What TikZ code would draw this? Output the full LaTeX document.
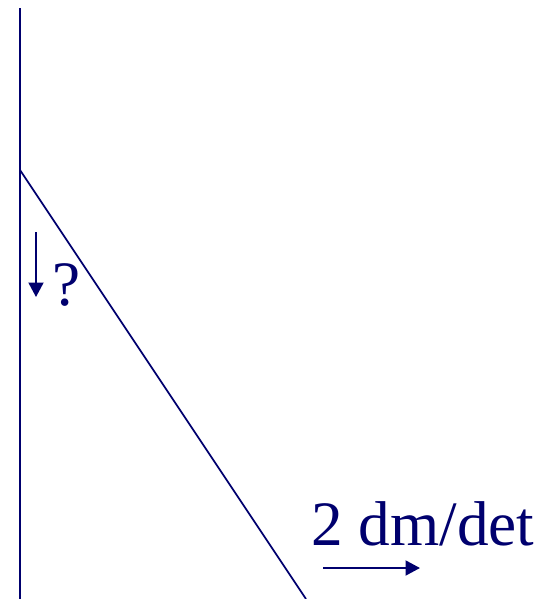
\documentclass[tikz,border=0pt]{standalone}
\usepackage{fontspec}
\setmainfont{Liberation Serif}
\usetikzlibrary{arrows.meta}
\definecolor{navy}{RGB}{0,0,110}
\tikzset{
  lbl/.style={font=\fontsize{36}{40}\selectfont, text=navy, inner sep=0pt},
  motion/.style={navy, line width=1.1pt, -{Triangle[length=0.29cm,width=0.3cm]}},
  body/.style={navy, line width=1.1pt}
}
\begin{document}
\begin{tikzpicture}[x=0.02cm,y=-0.02cm]
\useasboundingbox (0,0) rectangle (550,599);
% wall and ladder
\coordinate (walltop) at (20,8);
\coordinate (wallfoot) at (20,599);
\coordinate (ladtop) at (20,170);
\coordinate (ladfoot) at (306,599);
\draw[body, line width=1.3pt] (walltop) -- (wallfoot);
\draw[body, line width=1pt] (ladtop) -- (ladfoot);
% labels
\node[lbl, anchor=base] (q) at (67,305) {?};
\node[lbl, anchor=base west] (speed) at (311,545) {2 dm/det};
% motion arrows
\coordinate (downs) at (36,232);
\coordinate (downe) at (36,297);
\draw[motion] (downs) -- (downe);
\coordinate (rights) at (323,568);
\coordinate (righte) at (420,568);
\draw[motion] (rights) -- (righte);
\end{tikzpicture}
\end{document}
